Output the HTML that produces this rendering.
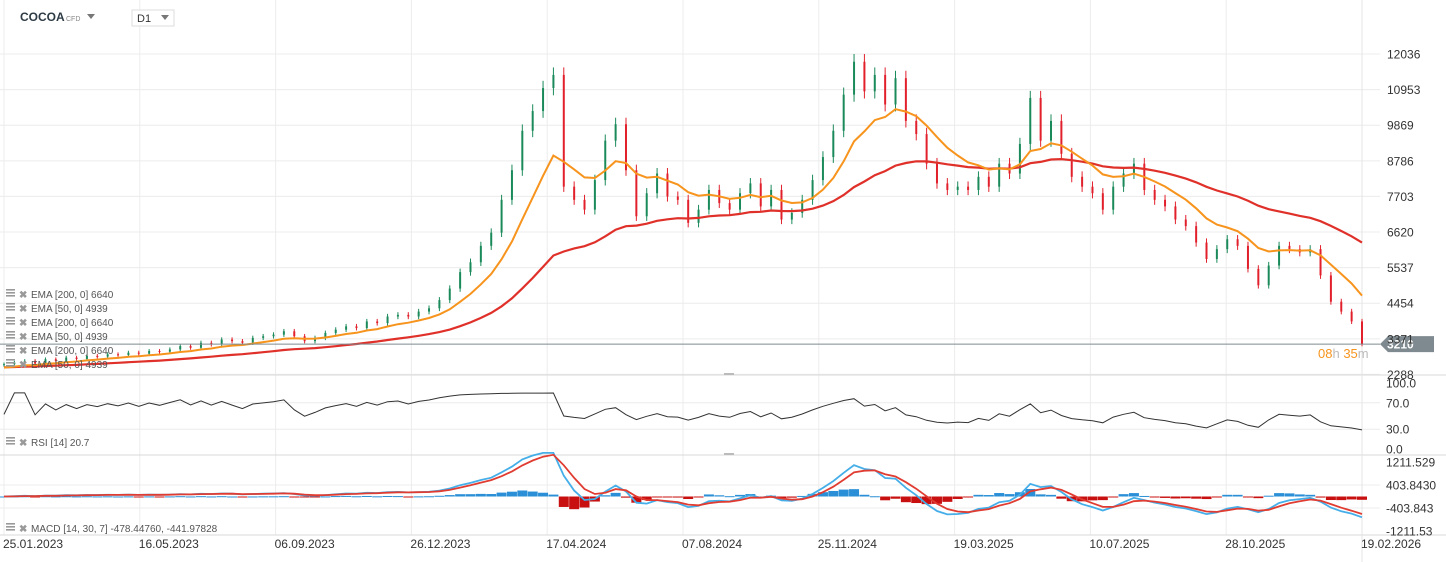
<!DOCTYPE html>
<html><head><meta charset="utf-8"><style>
body{margin:0;background:#fff;font-family:"Liberation Sans",sans-serif;}
#wrap{position:relative;width:1446px;height:562px;overflow:hidden;}
svg text{font-family:"Liberation Sans",sans-serif;}
</style></head><body>
<div id="wrap">
<svg id="c" width="1446" height="562"></svg>
</div>
<script>
const closes=[2600,2650,2700,2620,2750,2700,2800,2760,2850,2830,2900,2880,2950,2920,3000,2980,3050,3150,3100,3250,3200,3350,3300,3250,3400,3450,3500,3600,3450,3300,3400,3550,3650,3750,3700,3900,3850,4050,4100,4050,4200,4300,4550,4900,5400,5700,6200,6600,7600,8500,9700,10300,11000,11400,8000,7600,7300,8200,9400,9900,8500,7100,7800,8400,7700,7600,6900,7300,7900,7500,7300,7800,8100,7400,7900,7000,7200,7600,8200,8900,9700,10800,11800,10900,11400,10500,11300,10000,9600,8700,8100,7900,8000,7900,8300,8000,8700,8400,9300,10700,9400,10000,9000,8300,8000,7800,7300,8000,8400,8700,7900,7600,7400,7000,6800,6300,5800,6100,6400,6200,5500,5000,5600,6200,6100,6000,6100,5300,4500,4200,3900,3210];
const priceTicks=[12036,10953,9869,8786,7703,6620,5537,4454,3371,2288];
const rsiTicks=["100.0","70.0","30.0","0.0"];
const macdTicks=["1211.529","403.8430","-403.843","-1211.53"];
const dateLabels=["25.01.2023","16.05.2023","06.09.2023","26.12.2023","17.04.2024","07.08.2024","25.11.2024","19.03.2025","10.07.2025","28.10.2025","19.02.2026"];
const emaSeeds=[2500,2470];
const legendItems=["EMA [200,  0] 6640","EMA [50,  0] 4939","EMA [200,  0] 6640","EMA [50,  0] 4939","EMA [200,  0] 6640","EMA [50,  0] 4939"];

const NS="http://www.w3.org/2000/svg";
const svg=document.getElementById('c');
function el(t,a,p){const e=document.createElementNS(NS,t);for(const k in a)e.setAttribute(k,a[k]);(p||svg).appendChild(e);return e;}
const X0=4,X1=1362;
const xs=i=>X0+i*(X1-X0)/(closes.length-1);
const py=p=>54+(12036-p)*35.6/1083;
const ry=v=>449-(v)*(449-383)/100;
const my=v=>496.5-v*(531-462)/(2*1211.53);

const g=el('g',{});
dateLabels.forEach((d,i)=>{const x=X0+i*(X1-X0)/(dateLabels.length-1);el('line',{x1:x,x2:x,y1:0,y2:535,stroke:'#ececec'},g);});
priceTicks.forEach(p=>el('line',{x1:0,x2:1380,y1:py(p),y2:py(p),stroke:'#ececec'},g));
[70,30].forEach(v=>el('line',{x1:0,x2:1380,y1:ry(v),y2:ry(v),stroke:'#ececec'},g));
[403.843,-403.843].forEach(v=>el('line',{x1:0,x2:1380,y1:my(v),y2:my(v),stroke:'#ececec'},g));
[375,455,535].forEach(y=>el('line',{x1:0,x2:1446,y1:y,y2:y,stroke:'#d8d8d8'},g));
el('line',{x1:X1,x2:X1,y1:0,y2:562,stroke:'#e4e4e4'},g);
el('rect',{x:724,y:373,width:10,height:2,fill:'#bbb'},g);
el('rect',{x:724,y:453,width:10,height:2,fill:'#bbb'},g);

const cg=el('g',{});
closes.forEach((c,i)=>{const o=i?closes[i-1]:c*0.99;const up=c>=o;const col=up?'#1a8a5a':'#e2202c';
 const hi=Math.max(o,c)*1.02,lo=Math.min(o,c)*0.98;const x=xs(i);
 const w=el('line',{x1:x,x2:x,y1:py(hi),y2:py(lo),stroke:col,'stroke-width':1},cg);
 
 const b=el('rect',{x:x-1,y:py(Math.max(o,c)),width:2,height:Math.max(1,Math.abs(py(o)-py(c))),fill:col},cg);
 });

function ema(arr,n,seed){const a=2/(n+1);let e=seed;return arr.map(v=>e=e+a*(v-e));}
const e200=ema(closes,33,emaSeeds[0]),e50=ema(closes,9,emaSeeds[1]);
function path(arr,f){return arr.map((v,i)=>(i?'L':'M')+xs(i).toFixed(1)+','+f(v).toFixed(1)).join('');}
const l1=el('path',{d:path(e200,py),fill:'none',stroke:'#e0302a','stroke-width':2.2});

const l2=el('path',{d:path(e50,py),fill:'none',stroke:'#f7941d','stroke-width':2});


const last=closes[closes.length-1];
el('line',{x1:0,x2:1380,y1:py(last),y2:py(last),stroke:'#7e8a8f','stroke-width':1});
const tag=el('path',{d:`M1380,${py(last)} L1388,${py(last)-8} L1434,${py(last)-8} L1434,${py(last)+8} L1388,${py(last)+8} Z`,fill:'#7e8a8f'});

let t=el('text',{x:1387,y:py(last)+4.5,fill:'#fff','font-size':12,'font-weight':'bold'});t.textContent=String(last);
t=el('text',{x:1318,y:py(last)+14,'font-size':13});t.innerHTML='<tspan fill="#f7941d">08</tspan><tspan fill="#bbb">h </tspan><tspan fill="#f7941d">35</tspan><tspan fill="#bbb">m</tspan>';


const per=6;let ag=0,al=0;const rsi=[];
closes.forEach((c,i)=>{if(!i){rsi.push(50);return;}const d=c-closes[i-1];ag=(ag*(per-1)+Math.max(d,0))/per;al=(al*(per-1)+Math.max(-d,0))/per;rsi.push(al===0?100:100-100/(1+ag/al));});
const rl=el('path',{d:path(rsi,v=>ry(20+0.65*v)),fill:'none',stroke:'#333','stroke-width':1});


const f=ema(closes,4,closes[0]),s=ema(closes,9,closes[0]);
const macd=f.map((v,i)=>v-s[i]);const sig=ema(macd,3,0);
const hg=el('g',{});
macd.forEach((m,i)=>{const h=m-sig[i];const y0=my(0),y1=my(h);
 const r=el('rect',{x:xs(i)-5,y:Math.min(y0,y1),width:10,height:Math.max(1,Math.abs(y1-y0)),fill:h>=0?'#2a8fd6':'#c81010'},hg);
 });
const ml=el('path',{d:path(macd,my),fill:'none',stroke:'#45aee8','stroke-width':1.8});

const sl=el('path',{d:path(sig,my),fill:'none',stroke:'#e03c31','stroke-width':1.8});


priceTicks.forEach(p=>{const e=el('text',{x:1387,y:py(p)+4.5,'font-size':12,fill:'#333'});e.textContent=p;});
const rv=[100,70,30,0];rsiTicks.forEach((s2,i)=>{const e=el('text',{x:1386,y:ry(rv[i])+4.5,'font-size':12,fill:'#333'});e.textContent=s2;});
const mv=[1211.529,403.843,-403.843,-1211.53];macdTicks.forEach((s2,i)=>{const e=el('text',{x:1386,y:my(mv[i])+4.5,'font-size':12,fill:'#333'});e.textContent=s2;});
dateLabels.forEach((d,i)=>{const x=X0+i*(X1-X0)/(dateLabels.length-1);const e=el('text',{x:i?x-1:3,y:548,'font-size':12,fill:'#333'});e.textContent=d;});

function leg(y,txt,name){const gg=el('g',{});
 [0,3,6].forEach(k=>el('rect',{x:6,y:y-8+k,width:9,height:1.6,fill:'#999'},gg));
 const x=el('text',{x:19,y:y+1,'font-size':10,fill:'#999','font-weight':'bold'},gg);x.textContent='✖';
 const tt=el('text',{x:31,y:y+1,'font-size':10,fill:'#555'},gg);tt.textContent=txt;}
legendItems.forEach((s2,i)=>leg(297+i*14,s2,'ema-legend-entry'));
leg(445,'RSI  [14]  20.7','rsi-legend');
leg(531,'MACD  [14,  30,  7]  -478.44760,   -441.97828','macd-legend');

t=el('text',{x:20,y:21,'font-size':12,'font-weight':'bold',fill:'#2d3b45'});t.textContent='COCOA';
t=el('text',{x:66,y:21,'font-size':7,fill:'#888'});t.textContent='CFD';
el('path',{d:'M87,14 L95,14 L91,19 Z',fill:'#777'});
const dd=el('rect',{x:132,y:10,width:42,height:16,fill:'#fff',stroke:'#ddd'});
t=el('text',{x:137,y:22,'font-size':11,fill:'#333'});t.textContent='D1';
el('path',{d:'M161,15 L169,15 L165,20 Z',fill:'#777'});
</script>
</body></html>
